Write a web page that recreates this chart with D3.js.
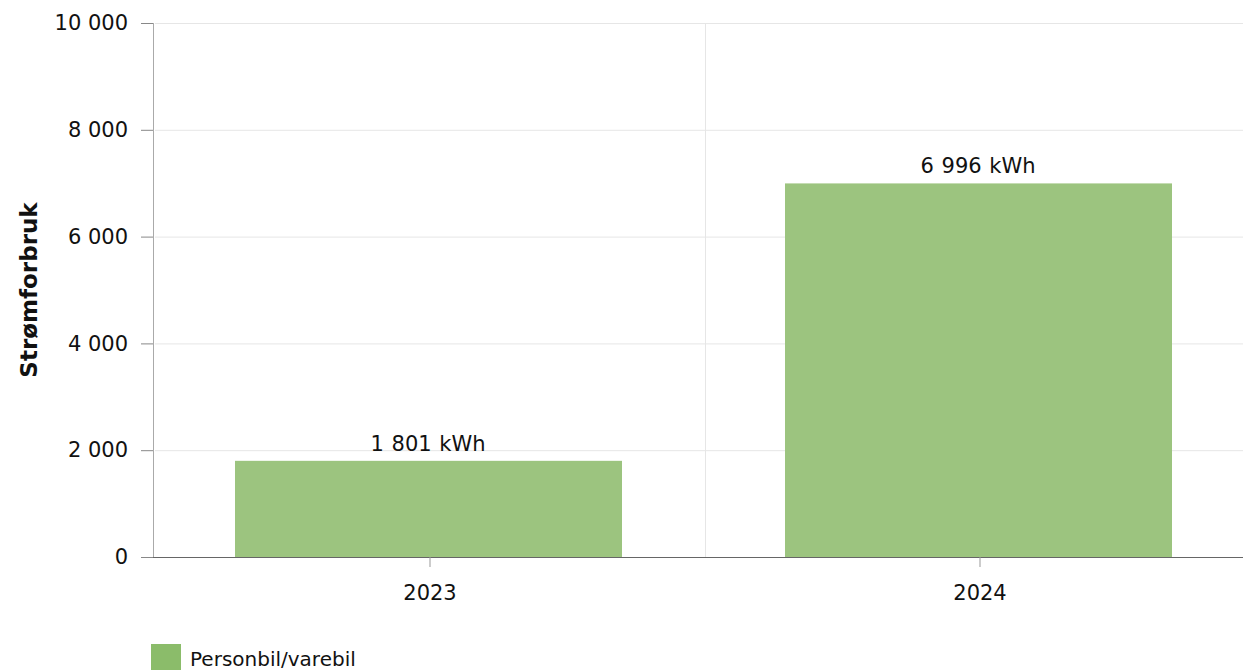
<!DOCTYPE html>
<html>
<head>
<meta charset="utf-8">
<script src="https://cdn.jsdelivr.net/npm/d3@7"></script>
<style>
  body { margin: 0; background: #fff; }
  svg { display: block; font-family: "DejaVu Sans", Verdana, sans-serif; }
</style>
</head>
<body>
<div class="chart"></div>
<script>
var years = ["2023", "2024"];
var values = [1801, 6996];
var yTicks = [0, 2000, 4000, 6000, 8000, 10000];
var seriesName = "Personbil/varebil";
var axisTitle = "Strømforbruk";

var width = 1243, height = 670;
var margins = { top: 23, left: 155, right: -12, bottom: 113 };
var fontSize = 21;

var fmt = function (v) {
    return d3.format(",")(v).replace(/,/g, " ");
};

var svg = d3.select('.chart')
    .append('svg')
    .attr('width', width)
    .attr('height', height);

var xScale = d3.scaleBand()
    .domain(years)
    .range([margins.left, width - margins.right])
    .paddingInner(0)
    .paddingOuter(0);

var yScale = d3.scaleLinear()
    .domain([0, 10000])
    .range([height - margins.bottom, margins.top]);

// grid
svg.append('g')
    .selectAll('line')
    .data(yTicks.slice(1))
    .enter()
    .append('line')
    .attr('x1', margins.left)
    .attr('x2', width)
    .attr('y1', d => yScale(d) + 0.5)
    .attr('y2', d => yScale(d) + 0.5)
    .attr('stroke', '#e6e6e6');

svg.append('line')
    .attr('x1', xScale('2024') + 0.5)
    .attr('x2', xScale('2024') + 0.5)
    .attr('y1', margins.top)
    .attr('y2', yScale(0))
    .attr('stroke', '#e6e6e6');

// bars
var barPad = 82;
svg.append('g')
    .selectAll('rect')
    .data(values)
    .enter()
    .append('rect')
    .attr('x', (d, i) => xScale(years[i]) + barPad - 2)
    .attr('y', d => yScale(d))
    .attr('width', xScale.bandwidth() - 2 * barPad + 1)
    .attr('height', d => yScale(0) - yScale(d))
    .attr('fill', '#9cc47f');

svg.append('g')
    .selectAll('text')
    .data(values)
    .enter()
    .append('text')
    .attr('x', (d, i) => xScale(years[i]) + xScale.bandwidth() / 2 - 2)
    .attr('y', d => yScale(d) - 10)
    .attr('text-anchor', 'middle')
    .attr('font-size', fontSize)
    .attr('word-spacing', 1)
    .attr('fill', '#111')
    .text(d => fmt(d) + ' kWh');

// y axis
var yAxis = svg.append('g')
    .attr('transform', 'translate(' + (margins.left - 2) + ',0)')
    .call(d3.axisLeft(yScale).tickValues(yTicks).tickFormat(fmt).tickSize(12).tickPadding(13));
yAxis.select('.domain').attr('stroke', '#aaa').attr('d', 'M0.5,' + margins.top + 'V' + (yScale(0) + 0.5));
yAxis.selectAll('.tick line').attr('stroke', '#888');
yAxis.selectAll('text')
    .attr('font-size', fontSize)
    .attr('fill', '#111')
    .attr('font-family', '"DejaVu Sans", Verdana, sans-serif');

// x axis
var xAxis = svg.append('g')
    .attr('transform', 'translate(0,' + yScale(0) + ')')
    .call(d3.axisBottom(xScale).tickSize(10).tickPadding(18));
xAxis.select('.domain').attr('stroke', '#666').attr('d', 'M' + (margins.left - 2) + ',0.5H' + width);
xAxis.selectAll('.tick line').attr('stroke', '#999');
xAxis.selectAll('text')
    .attr('font-size', fontSize)
    .attr('fill', '#111')
    .attr('font-family', '"DejaVu Sans", Verdana, sans-serif');

// y title
svg.append('text')
    .attr('transform', 'translate(37,' + ((margins.top + yScale(0)) / 2) + ') rotate(-90)')
    .attr('text-anchor', 'middle')
    .attr('font-size', 23)
    .attr('font-weight', 'bold')
    .attr('fill', '#111')
    .text(axisTitle);

// legend
svg.append('rect')
    .attr('x', 151)
    .attr('y', 644)
    .attr('width', 30)
    .attr('height', 26)
    .attr('fill', '#8bbc6a');
svg.append('text')
    .attr('x', 190)
    .attr('y', 666)
    .attr('font-size', 20)
    .attr('fill', '#111')
    .text(seriesName);
</script>
</body>
</html>
